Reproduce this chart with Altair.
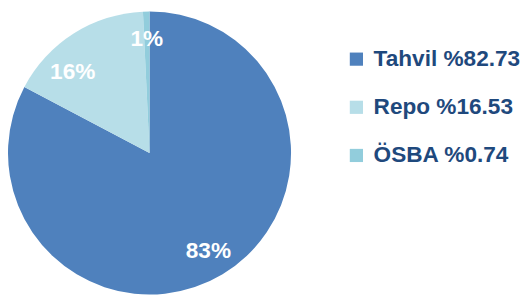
import altair as alt
import pandas as pd

categories = ["Tahvil", "Repo", "ÖSBA"]
shares = [82.73, 16.53, 0.74]
slice_labels = ["83%", "16%", "1%"]
colors = ["#4F81BD", "#B7DEE8", "#92CDDC"]

legend_names = [f"{c} %{v:.2f}" for c, v in zip(categories, shares)]
df = pd.DataFrame({
    "name": legend_names,
    "share": shares,
    "label": slice_labels,
    "order": [0, 1, 2],
})

color = alt.Color(
    "name:N",
    scale=alt.Scale(domain=legend_names, range=colors),
    sort=legend_names,
    legend=alt.Legend(
        title=None, orient="none", legendX=341, legendY=38,
        symbolType="square", symbolSize=180, symbolStrokeWidth=0,
        labelFontSize=23, labelFont="Liberation Sans", labelFontWeight="bold",
        labelColor="#1F497D", rowPadding=25, labelOffset=6, padding=0,
        labelLimit=300,
    ),
)

base = alt.Chart(df).encode(
    theta=alt.Theta("share:Q", stack=True),
    order=alt.Order("order:Q"),
)

pie = base.mark_arc(outerRadius=144).encode(color=color)

text_style = dict(radius=116, fontSize=23, font="Liberation Sans", fontWeight="bold", color="white")
text_main = base.mark_text(**text_style).encode(
    text=alt.condition(alt.datum.label != "16%", "label:N", alt.value(""))
)
text_repo = base.mark_text(dx=-16, dy=16, **text_style).encode(
    text=alt.condition(alt.datum.label == "16%", "label:N", alt.value(""))
)

chart = (pie + text_main + text_repo).properties(width=284, height=290, padding=0).configure_view(stroke=None)

chart.save("out.html", embed_options={"renderer": "svg", "actions": False})
